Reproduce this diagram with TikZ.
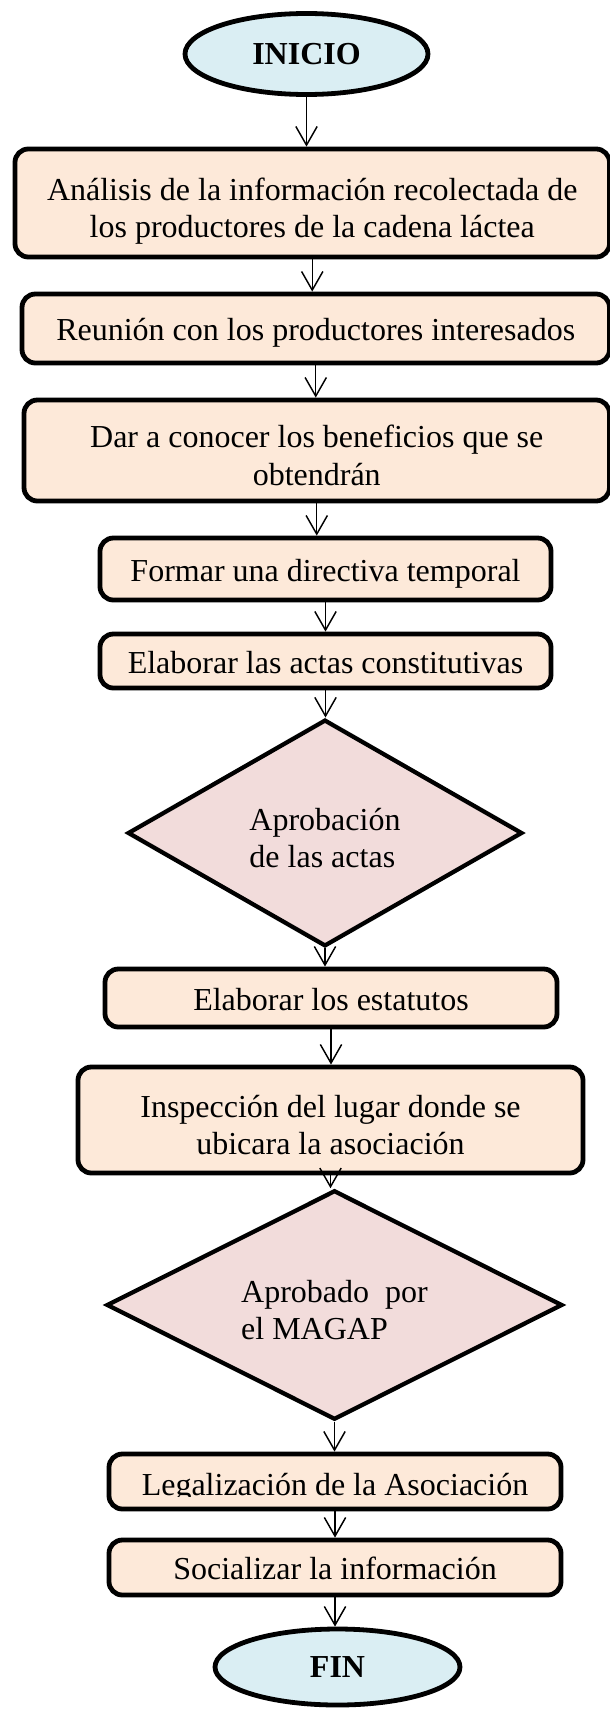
\documentclass[tikz,border=0pt]{standalone}
\usepackage{fontspec}
\setmainfont{Liberation Serif}
\usetikzlibrary{shapes.geometric,arrows.meta}
\definecolor{boxfill}{HTML}{FDE9D9}
\definecolor{dfill}{HTML}{F2DCDB}
\definecolor{efill}{HTML}{DAEEF3}
\begin{document}
\begin{tikzpicture}[x=0.75pt,y=-0.75pt,
  txt/.style={font=\fontsize{24}{28}\selectfont},
  one/.style={text height=18pt, text depth=0pt},
  two/.style={text height=52pt, text depth=0pt},
  procbox/.style={draw, line width=3.6pt, fill=boxfill, rounded corners=10pt, inner sep=0pt, align=center, txt},
  decision/.style={diamond, aspect=1.8, draw, line width=3.2pt, fill=dfill, inner sep=0pt, align=left, txt},
  term/.style={ellipse, draw, line width=3.6pt, fill=efill, inner sep=0pt, font=\bfseries\fontsize{24}{28}\selectfont},
  flow/.style={-{Straight Barb[length=14pt,width=16pt]}, line width=1.1pt}]
\useasboundingbox (0,0) rectangle (610,1709);
\node[term, minimum width=182.25pt, minimum height=60.75pt] (ini) at (306.5,54) {INICIO};
\node[procbox, two, minimum width=445.9pt, minimum height=81pt] (b1) at (312.25,203) {Análisis de la información recolectada de\\los productores de la cadena láctea};
\node[procbox, one, minimum width=440.6pt, minimum height=51.75pt] (b2) at (315.75,328.5) {Reunión con los productores interesados};
\node[procbox, two, minimum width=439.1pt, minimum height=75.75pt] (b3) at (316.75,450.5) {Dar a conocer los beneficios que se\\obtendrán};
\node[procbox, one, minimum width=338.25pt, minimum height=46.5pt] (b4) at (325.5,569) {Formar una directiva temporal};
\node[procbox, one, minimum width=338.25pt, minimum height=40.5pt] (b5) at (325.5,661) {Elaborar las actas constitutivas};
\node[decision, two, minimum width=296pt, minimum height=170pt] (d1) at (325,833) {Aprobación\\de las actas};
\node[procbox, one, minimum width=339pt, minimum height=43.5pt] (b6) at (331,998) {Elaborar los estatutos};
\node[procbox, two, minimum width=378.75pt, minimum height=79.5pt] (b7) at (330.5,1120) {Inspección del lugar donde se\\ubicara la asociación};
\node[decision, two, minimum width=342pt, minimum height=172pt] (d2) at (334.5,1305) {Aprobado\ \ por\\el MAGAP};
\node[procbox, minimum width=339pt, minimum height=41.25pt] (b8) at (335,1481.5) {};
\begin{scope}
  \clip (100,1452) rectangle (570,1496);
  \node[txt, anchor=base, inner sep=0pt] (b8t) at (335,1495) {Legalización de la Asociación};
\end{scope}
\node[procbox, one, minimum width=339pt, minimum height=41.25pt] (b9) at (335,1567.5) {Socializar la información};
\node[term, minimum width=183.75pt, minimum height=57pt] (fin) at (337.5,1667) {FIN};
\foreach \a/\b in {ini/b1,b1/b2,b2/b3,b3/b4,b4/b5,b5/d1,d1/b6,b6/b7,b7/d2,d2/b8,b8/b9,b9/fin}
  \draw[flow] (\a.south) -- (\a.south |- \b.north);
\end{tikzpicture}
\end{document}
